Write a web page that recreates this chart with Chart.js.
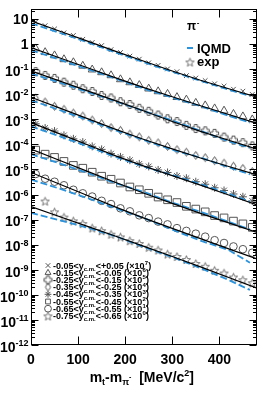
<!DOCTYPE html>
<html>
<head>
<meta charset="utf-8">
<script src="https://cdn.jsdelivr.net/npm/chart.js@4.4.1/dist/chart.umd.min.js"></script>
<style>
  html, body { margin: 0; padding: 0; background: #fff; }
</style>
</head>
<body>
<canvas id="spectra" width="274" height="402"></canvas>
<script>
// m_t - m_pi bins (MeV/c^2)
const ptX = [10, 30, 50, 70, 90, 110, 130, 150, 170, 190, 210, 230, 250, 270, 290, 310, 330, 350, 370, 390, 410, 430, 450, 470];
const fitX = [0, 60, 120, 180, 240, 300, 360, 420, 480];
const iqmdX = [0, 60, 120, 180, 240, 300, 360, 420, 465];

// rapidity bins and scale factors
const yLow = ['-0.05', '-0.15', '-0.25', '-0.35', '-0.45', '-0.55', '-0.65', '-0.75'];
const yHigh = ['+0.05', '-0.05', '-0.15', '-0.25', '-0.35', '-0.45', '-0.55', '-0.65'];
const scalePow = [7, 6, 5, 4, 3, 2, 1, 0];

// axis ticks
const xTickVals = [0, 100, 200, 300, 400];
const yTickVals = [1e-12, 1e-11, 1e-10, 1e-9, 1e-8, 1e-7, 1e-6, 1e-5, 1e-4, 1e-3, 1e-2, 1e-1, 1, 10];

// measured points (already scaled)
const exp1 = [7.6, 5.4, 4.0, 2.8, 2.2, 1.55, 1.15, 0.87, 0.60, 0.46, 0.33, 0.25, 0.178, 0.141, 0.102, 0.079, 0.055, 0.044, 0.035, 0.026, 0.021, 0.0158, 0.0132, 0.0098];
const exp2 = [0.66, 0.47, 0.35, 0.245, 0.186, 0.135, 0.0955, 0.0741, 0.0562, 0.0389, 0.0295, 0.0229, 0.0166, 0.0129, 0.0102, 0.00759, 0.00603, 0.00447, 0.00355, 0.00269, 0.00219, 0.00162, 0.00129, 0.000977];
const exp3 = [0.0794, 0.0562, 0.0427, 0.0302, 0.0229, 0.0166, 0.0129, 0.00891, 0.00708, 0.00501, 0.00389, 0.00275, 0.00209, 0.00148, 0.00105, 0.000813, 0.000575, 0.000427, 0.000347, 0.000275, 0.000195, 0.000148, 0.000117, 0.0000871];
const exp4 = [0.00692, 0.00490, 0.00331, 0.00251, 0.00178, 0.00135, 0.000933, 0.000676, 0.000468, 0.000363, 0.000257, 0.000200, 0.000145, 0.000115, 8.32e-5, 6.17e-5, 4.90e-5, 3.63e-5, 2.95e-5, 2.24e-5, 1.78e-5, 1.35e-5, 1.10e-5, 8.32e-6];
const exp5 = [6.61e-4, 4.47e-4, 3.39e-4, 2.29e-4, 1.66e-4, 1.23e-4, 8.32e-5, 6.31e-5, 4.27e-5, 3.16e-5, 2.34e-5, 1.66e-5, 1.32e-5, 9.55e-6, 7.59e-6, 5.50e-6, 4.47e-6, 3.24e-6, 2.57e-6, 1.86e-6, 1.45e-6, 1.05e-6, 8.13e-7, 5.50e-7];
const exp6 = [5.89e-5, 4.07e-5, 3.02e-5, 2.09e-5, 1.45e-5, 1.12e-5, 7.76e-6, 5.37e-6, 4.07e-6, 2.88e-6, 2.00e-6, 1.55e-6, 1.12e-6, 7.94e-7, 6.17e-7, 4.79e-7, 3.39e-7, 2.63e-7, 2.04e-7, 1.45e-7, 1.17e-7, 8.71e-8, 6.76e-8, 4.90e-8];
const exp7 = [6.61e-6, 4.27e-6, 3.24e-6, 2.34e-6, 1.55e-6, 1.12e-6, 8.32e-7, 5.62e-7, 4.17e-7, 2.82e-7, 2.14e-7, 1.48e-7, 1.15e-7, 8.32e-8, 6.46e-8, 4.57e-8, 3.55e-8, 2.75e-8, 2.09e-8, 1.51e-8, 1.17e-8, 8.51e-9, 6.61e-9, 4.79e-9];
const exp8 = [null, 5.50e-7, 2.04e-7, 1.26e-7, 8.91e-8, 6.92e-8, 4.68e-8, 3.63e-8, 2.63e-8, 2.04e-8, 1.45e-8, 1.12e-8, 7.94e-9, 6.17e-9, 4.27e-9, 3.39e-9, 2.57e-9, 1.78e-9, 1.38e-9, 9.55e-10, 7.41e-10, 5.13e-10, 3.98e-10, 3.02e-10];

// fits (black)
const fit1 = [8.51, 3.33, 1.31, 0.513, 0.206, 0.0841, 0.0360, 0.0165, 0.00759];
const fit2 = [0.724, 0.286, 0.113, 0.0446, 0.0184, 0.00794, 0.00348, 0.00155, 0.000692];
const fit3 = [0.0851, 0.0340, 0.0136, 0.00545, 0.00213, 0.000820, 0.000331, 0.000146, 0.0000646];
const fit4 = [7.59e-3, 2.84e-3, 1.06e-3, 3.98e-4, 1.57e-4, 6.59e-5, 2.86e-5, 1.31e-5, 6.03e-6];
const fit5 = [7.41e-4, 2.67e-4, 9.62e-5, 3.46e-5, 1.35e-5, 5.70e-6, 2.38e-6, 9.62e-7, 3.89e-7];
const fit6 = [6.46e-5, 2.32e-5, 8.38e-6, 3.01e-6, 1.13e-6, 4.45e-7, 1.78e-7, 7.41e-8, 3.09e-8];
const fit7 = [7.59e-6, 2.62e-6, 9.10e-7, 3.15e-7, 1.15e-7, 4.47e-8, 1.74e-8, 6.84e-9, 2.69e-9];
const fit8 = [3.31e-7, 1.33e-7, 5.37e-8, 2.16e-8, 8.59e-9, 3.37e-9, 1.30e-9, 4.92e-10, 1.86e-10];

// IQMD (blue dashed)
const iqmd1 = [6.76, 2.84, 1.17, 0.457, 0.187, 0.0785, 0.0344, 0.0151, 0.00861];
const iqmd2 = [0.575, 0.243, 0.100, 0.0416, 0.0164, 0.00741, 0.00332, 0.00138, 0.000738];
const iqmd3 = [0.0676, 0.0296, 0.0124, 0.00520, 0.00213, 0.000899, 0.000347, 0.000130, 0.0000740];
const iqmd4 = [5.75e-3, 2.36e-3, 9.48e-4, 3.63e-4, 1.50e-4, 6.01e-5, 2.99e-5, 1.22e-5, 6.38e-6];
const iqmd5 = [5.25e-4, 2.12e-4, 8.38e-5, 3.15e-5, 1.29e-5, 5.97e-6, 2.61e-6, 1.08e-6, 5.22e-7];
const iqmd6 = [4.07e-5, 1.76e-5, 7.29e-6, 2.81e-6, 1.27e-6, 4.76e-7, 2.05e-7, 8.13e-8, 4.03e-8];
const iqmd7 = [3.98e-6, 1.73e-6, 7.23e-7, 2.81e-7, 1.15e-7, 3.98e-8, 1.45e-8, 6.10e-9, 1.91e-9];
const iqmd8 = [1.86e-7, 9.44e-8, 4.79e-8, 2.16e-8, 8.02e-9, 3.22e-9, 1.16e-9, 3.91e-10, 1.57e-10];

const expSets = [exp1, exp2, exp3, exp4, exp5, exp6, exp7, exp8];
const fitSets = [fit1, fit2, fit3, fit4, fit5, fit6, fit7, fit8];
const iqmdSets = [iqmd1, iqmd2, iqmd3, iqmd4, iqmd5, iqmd6, iqmd7, iqmd8];

const markerColor = '#555';
const blue = '#2a93dc';
const FONT = '"Liberation Sans", Arial, Helvetica, sans-serif';

// small canvases for the markers chart.js has no style for
function makeMarker(size, width, draw) {
    const c = document.createElement('canvas');
    c.width = size;
    c.height = size;
    const g = c.getContext('2d');
    g.strokeStyle = markerColor;
    g.lineWidth = width;
    draw(g, size / 2);
    return c;
}
const openCross = makeMarker(11, 1, function (g, m) {
    const a = 1.5, r = 4;
    const pts = [[-a, -r], [a, -r], [a, -a], [r, -a], [r, a], [a, a], [a, r], [-a, r], [-a, a], [-r, a], [-r, -a], [-a, -a]];
    g.beginPath();
    pts.forEach(function (p, i) {
        if (i === 0) g.moveTo(m + p[0], m + p[1]); else g.lineTo(m + p[0], m + p[1]);
    });
    g.closePath();
    g.stroke();
});
const openStar = makeMarker(11, 0.8, function (g, m) {
    g.beginPath();
    for (let i = 0; i < 10; i++) {
        const ang = -Math.PI / 2 + i * Math.PI / 5;
        const rad = i % 2 ? 1.9 : 4.4;
        const px = m + rad * Math.cos(ang), py = m + 0.6 + rad * Math.sin(ang);
        if (i === 0) g.moveTo(px, py); else g.lineTo(px, py);
    }
    g.closePath();
    g.stroke();
});
const thinDiamond = makeMarker(11, 1, function (g, m) {
    g.beginPath();
    g.moveTo(m, m - 4);
    g.lineTo(m + 2.6, m);
    g.lineTo(m, m + 4);
    g.lineTo(m - 2.6, m);
    g.closePath();
    g.stroke();
});

const markerStyles = ['crossRot', 'triangle', openCross, thinDiamond, 'star', 'rect', 'circle', openStar];
const markerSizes = [3.3, 4.6, 4, 4, 4, 5.4, 3.8, 4];

const datasets = [];
for (let k = 0; k < 8; k++) {
    datasets.push({
        data: fitX.map(function (x, i) { return { x: x, y: fitSets[k][i] }; }),
        showLine: true, pointRadius: 0, borderColor: '#000', borderWidth: 1.2,
        order: 1
    });
    datasets.push({
        data: iqmdX.map(function (x, i) { return { x: x, y: iqmdSets[k][i] }; }),
        showLine: true, pointRadius: 0, borderColor: blue, borderWidth: 1.8,
        borderDash: [7, 3], order: 2
    });
    datasets.push({
        data: ptX.map(function (x, i) { return { x: x, y: expSets[k][i] }; })
                 .filter(function (p) { return p.y !== null; }),
        showLine: false,
        pointStyle: markerStyles[k], pointRadius: markerSizes[k],
        pointBorderColor: markerColor, pointBackgroundColor: 'rgba(0,0,0,0)',
        pointBorderWidth: 1, order: 3
    });
}

// text with a smaller raised/lowered piece, returns new x
function piece(ctx, str, x, y, size) {
    ctx.font = 'bold ' + size + 'px ' + FONT;
    ctx.fillText(str, x, y);
    return x + ctx.measureText(str).width;
}
function pieceWidth(ctx, parts) {
    let w = 0;
    parts.forEach(function (p) {
        ctx.font = 'bold ' + p[1] + 'px ' + FONT;
        w += ctx.measureText(p[0]).width;
    });
    return w;
}

function drawMarker(ctx, style, r, x, y) {
    ctx.save();
    ctx.strokeStyle = markerColor;
    ctx.fillStyle = 'rgba(0,0,0,0)';
    ctx.lineWidth = 1;
    if (Chart.helpers && Chart.helpers.drawPoint) {
        Chart.helpers.drawPoint(ctx, { pointStyle: style, radius: r, borderWidth: 1, rotation: 0 }, x, y);
    } else if (typeof style !== 'string') {
        ctx.drawImage(style, x - style.width / 2, y - style.height / 2);
    }
    ctx.restore();
}

const rootStyle = {
    id: 'rootStyle',
    afterDraw(chart) {
        const ctx = chart.ctx, a = chart.chartArea;
        const xs = chart.scales.x, ys = chart.scales.y;
        const L = Math.round(a.left) + 0.5, R = Math.round(a.right) - 0.5;
        const T = Math.round(a.top) + 0.5, B = Math.round(a.bottom) - 0.5;
        ctx.save();
        ctx.strokeStyle = '#000';
        ctx.lineWidth = 1;
        ctx.strokeRect(L, T, R - L, B - T);

        // y ticks, major and minor, on both sides
        ctx.beginPath();
        ys.ticks.forEach(function (t) {
            const py = Math.round(ys.getPixelForValue(t.value)) + 0.5;
            ctx.moveTo(L, py); ctx.lineTo(L + 7, py);
            ctx.moveTo(R, py); ctx.lineTo(R - 7, py);
            for (let m = 2; m <= 9; m++) {
                const v = t.value * m;
                if (v > ys.max) break;
                const pm = Math.round(ys.getPixelForValue(v)) + 0.5;
                ctx.moveTo(L, pm); ctx.lineTo(L + 3.5, pm);
                ctx.moveTo(R, pm); ctx.lineTo(R - 3.5, pm);
            }
        });
        // x ticks
        xTickVals.forEach(function (v) {
            const px = Math.round(xs.getPixelForValue(v)) + 0.5;
            if (v > 0) {
                ctx.moveTo(px, B); ctx.lineTo(px, B - 8);
                ctx.moveTo(px, T); ctx.lineTo(px, T + 8);
            }
        });
        ctx.stroke();

        ctx.fillStyle = '#000';
        // y labels
        ctx.textAlign = 'left';
        ctx.textBaseline = 'alphabetic';
        ys.ticks.forEach(function (t) {
            const e = Math.round(Math.log10(t.value));
            const py = ys.getPixelForValue(t.value);
            const right = 28.5;
            if (e === 1 || e === 0) {
                const s = e === 1 ? '10' : '1';
                ctx.font = 'bold 14px ' + FONT;
                ctx.fillText(s, right - ctx.measureText(s).width, py + 5);
            } else {
                const sup = String(e);
                const w = pieceWidth(ctx, [['10', 14], [sup, 9]]);
                let x = right - w;
                x = piece(ctx, '10', x, py + 6.8, 14);
                piece(ctx, sup, x, py + 1, 9);
            }
        });
        // x labels
        ctx.textAlign = 'center';
        ctx.font = 'bold 14px ' + FONT;
        xTickVals.forEach(function (v) {
            ctx.fillText(String(v), xs.getPixelForValue(v), 364);
        });

        // x title: m_t-m_pi-  [MeV/c2]
        ctx.textAlign = 'left';
        const title = [['m', 14, 0], ['t', 9, 3], ['-m', 14, 0], ['\u03c0', 9, 3], ['-', 7, -3], ['  [MeV/c', 14, 0], ['2', 9, -6], [']', 14, 0]];
        let tx = 194 - pieceWidth(ctx, title);
        title.forEach(function (p) { tx = piece(ctx, p[0], tx, 382 + p[2], p[1]); });

        // top right legend
        let lx = piece(ctx, '\u03c0', 187, 30, 12);
        piece(ctx, '-', lx + 0.5, 25, 8);
        ctx.strokeStyle = blue;
        ctx.lineWidth = 2;
        ctx.beginPath(); ctx.moveTo(187, 48); ctx.lineTo(193, 48); ctx.stroke();
        piece(ctx, 'IQMD', 197, 53, 13);
        drawMarker(ctx, openStar, 4, 190, 62);
        piece(ctx, 'exp', 197, 66, 13);

        // rapidity legend
        for (let k = 0; k < 8; k++) {
            const ry = 265.5 + k * 7.2;
            drawMarker(ctx, markerStyles[k], Math.min(markerSizes[k], 3.4), 48, ry);
            ctx.fillStyle = '#000';
            let x = piece(ctx, yLow[k] + '<y', 53, ry + 3, 9);
            x = piece(ctx, 'c.m.', x, ry + 5.5, 6);
            x = piece(ctx, '<' + yHigh[k] + ' (\u00d710', x, ry + 3, 9);
            x = piece(ctx, String(scalePow[k]), x + 0.3, ry - 0.5, 6);
            piece(ctx, ')', x, ry + 3, 9);
        }
        ctx.restore();
    }
};

new Chart(document.getElementById('spectra'), {
    type: 'scatter',
    data: { datasets: datasets },
    options: {
        responsive: false,
        animation: false,
        layout: { padding: { top: 9, right: 17, left: 0, bottom: 0 } },
        plugins: { legend: { display: false }, tooltip: { enabled: false } },
        scales: {
            x: {
                type: 'linear', min: 0, max: 480,
                grid: { display: false }, border: { display: false },
                ticks: { display: false },
                afterFit: function (s) { s.height = 57; }
            },
            y: {
                type: 'logarithmic', min: 1e-12, max: 25,
                grid: { display: false }, border: { display: false },
                ticks: { display: false },
                afterBuildTicks: function (s) {
                    s.ticks = yTickVals.map(function (v) { return { value: v }; });
                },
                afterFit: function (s) { s.width = 31; }
            }
        }
    },
    plugins: [rootStyle]
});
</script>
</body>
</html>
